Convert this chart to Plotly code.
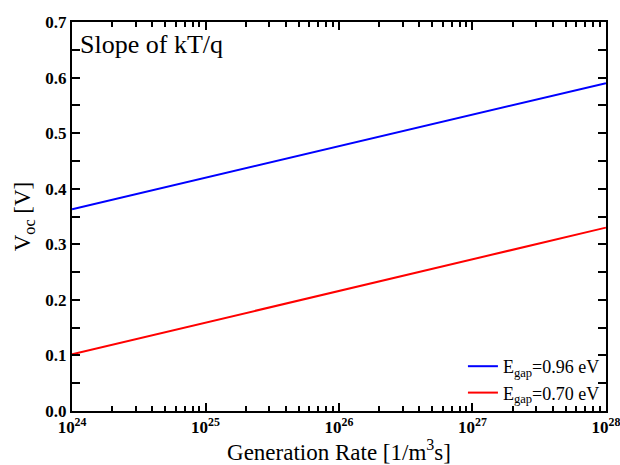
import plotly.graph_objects as go

gen_rate = [1e24, 1e25, 1e26, 1e27, 1e28]
voc_096 = [0.363, 0.420, 0.477, 0.534, 0.590]
voc_070 = [0.102, 0.159, 0.216, 0.273, 0.330]
labels = ["E<sub>gap</sub>=0.96 eV", "E<sub>gap</sub>=0.70 eV"]
x_ticktext = ["10<sup>24</sup>", "10<sup>25</sup>", "10<sup>26</sup>", "10<sup>27</sup>", "10<sup>28</sup>"]
minor_x = [float(m) * 10.0 ** e for e in range(24, 28) for m in range(2, 10)]

FONT = "Times New Roman, Liberation Serif, DejaVu Serif, serif"

fig = go.Figure()
fig.add_trace(go.Scatter(x=gen_rate, y=voc_096, mode="lines", name=labels[0],
                         line=dict(color="#0000ff", width=2)))
fig.add_trace(go.Scatter(x=gen_rate, y=voc_070, mode="lines", name=labels[1],
                         line=dict(color="#ff0000", width=2)))
# invisible helper trace for minor-tick axis
fig.add_trace(go.Scatter(x=[1e24, 1e28], y=[0, 0], xaxis="x2", yaxis="y", mode="markers",
                         marker=dict(opacity=0), showlegend=False, hoverinfo="skip"))

axis_common = dict(showline=True, linecolor="black", linewidth=2, mirror="allticks",
                   ticks="inside", tickcolor="black", tickwidth=2, ticklen=8,
                   showgrid=False, zeroline=False, automargin=False,
                   ticklabeloverflow="allow",
                   tickfont=dict(family=FONT, size=17, color="black", weight="bold"))

xr = [23.9995, 28.0005]
fig.update_layout(xaxis=dict(type="log", range=xr, tickvals=gen_rate, ticktext=x_ticktext,
                             title=dict(text="Generation Rate [1/m<sup>3</sup>s]",
                                        font=dict(family=FONT, size=23, color="black"), standoff=2),
                             **axis_common),
                  xaxis2=dict(type="log", range=xr, overlaying="x", anchor="y", side="bottom",
                              tickmode="array", tickvals=minor_x, showticklabels=False,
                              ticks="inside", ticklen=5, tickwidth=2, tickcolor="black",
                              mirror="allticks", showline=True,
                              linecolor="black", linewidth=2, showgrid=False, zeroline=False,
                              automargin=False))
fig.update_yaxes(range=[0, 0.7], dtick=0.1, tickformat=".1f",
                 title=dict(text="V<sub>oc</sub> [V]",
                            font=dict(family=FONT, size=23, color="black"), standoff=8),
                 minor=dict(ticks="inside", ticklen=5, tickwidth=2, tickcolor="black", dtick=0.05),
                 **axis_common)

fig.add_annotation(x=0.012, y=0.985, xref="paper", yref="paper", xanchor="left", yanchor="top",
                   text="Slope of kT/q", showarrow=False,
                   font=dict(family=FONT, size=26, color="black"))

fig.update_layout(width=620, height=465, margin=dict(l=72, r=14, t=22, b=54),
                  plot_bgcolor="white", paper_bgcolor="white",
                  legend=dict(x=0.998, y=0.0, xanchor="right", yanchor="bottom",
                              bgcolor="rgba(0,0,0,0)", borderwidth=0,
                              font=dict(family=FONT, size=18, color="black"),
                              tracegroupgap=0, itemwidth=30))

fig.write_html("out.html")
